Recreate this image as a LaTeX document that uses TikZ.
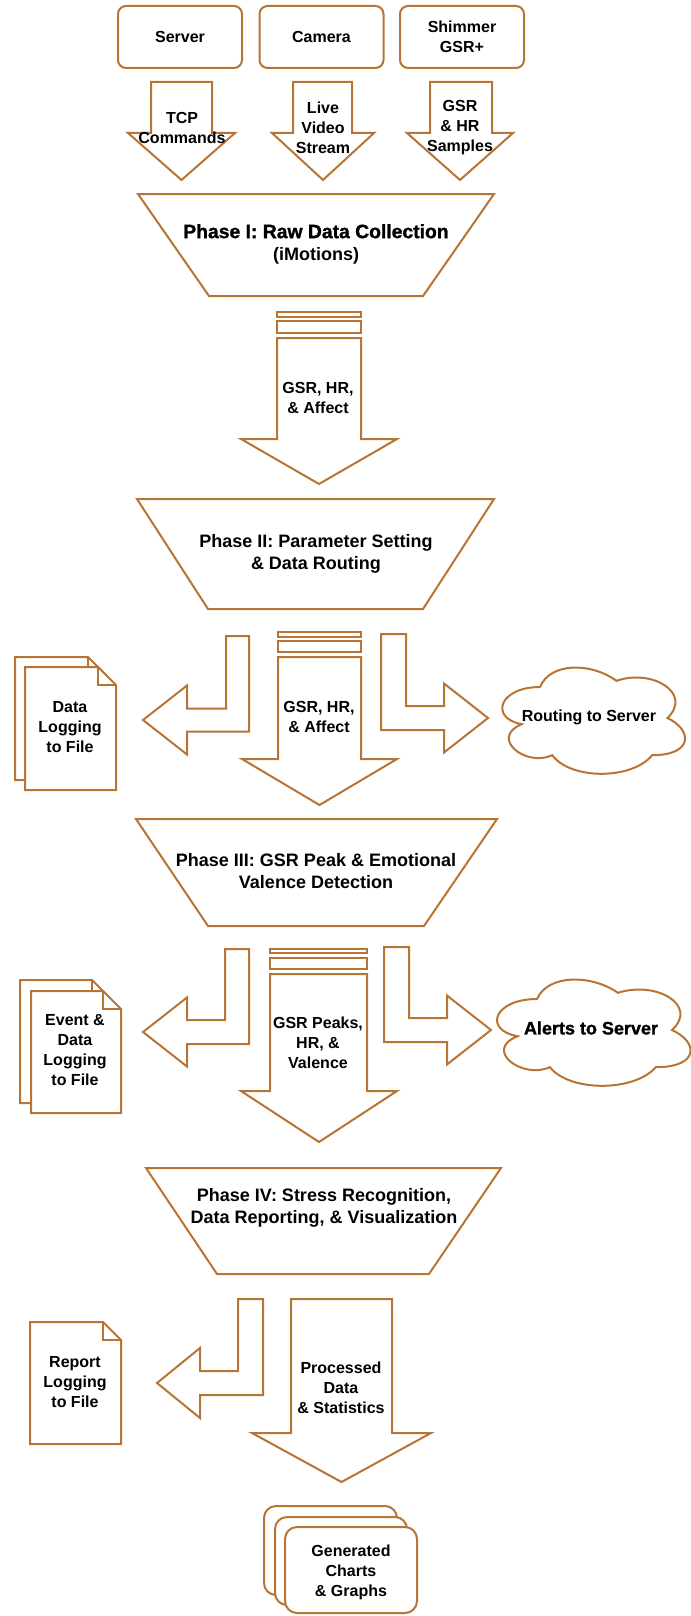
\documentclass[tikz,border=0pt]{standalone}
\usepackage{fontspec}
\setmainfont{Liberation Sans}
\newfontfamily\heavyfont{Liberation Sans}[FakeBold=1.3]
\definecolor{copper}{RGB}{184,116,52}
\tikzset{
  shapeline/.style={draw=copper, line width=1.5pt, fill=white, line join=miter},
  srcbox/.style={shapeline, rounded corners=6pt, minimum width=93pt, minimum height=46.5pt,
                 align=center, inner sep=0pt, font=\fontsize{12}{15}\selectfont\bfseries},
  lbl/.style={font=\fontsize{12}{15}\selectfont\bfseries, align=center, inner sep=0pt, text=black},
  phaselbl/.style={font=\fontsize{13.5}{16.5}\selectfont\bfseries, align=center, inner sep=0pt, text=black},
}
% downward block arrow: shaft left, shaft right, top, head y, wing left, wing right, tip y
\newcommand\downblock[7]{%
  \draw[shapeline] (#1,#3) -- (#2,#3) -- (#2,#4) -- (#6,#4) -- ({(#5+#6)/2},#7)
    -- (#5,#4) -- (#1,#4) -- cycle;}
% bent block arrow: outer shaft x, inner shaft x, top, arm centre y, arm half height,
% head base x, head half height, tip x
\newcommand\turnarrow[8]{%
  \draw[shapeline] (#1,#3) -- (#1,{#4+#5}) -- (#6,{#4+#5}) -- (#6,{#4+#7}) -- (#8,#4)
    -- (#6,{#4-#7}) -- (#6,{#4-#5}) -- (#2,{#4-#5}) -- (#2,#3) -- cycle;}
% page with folded corner: x1, y1, x2, y2, fold
\newcommand\docpage[5]{%
  \draw[shapeline] (#1,#2) -- ({#3-#5},#2) -- (#3,{#2+#5}) -- (#3,#4) -- (#1,#4) -- cycle;
  \draw[shapeline, fill=none] ({#3-#5},#2) -- ({#3-#5},{#2+#5}) -- (#3,{#2+#5});}
% cloud outline in a box: x0, y0, width, height
\newcommand\cloudshape[4]{%
  \begin{scope}[shift={(#1,#2)}, xscale=#3, yscale=#4]
    \draw[shapeline] (0.25,0.25) .. controls (0.05,0.25) and (0,0.5) .. (0.16,0.55)
      .. controls (0,0.66) and (0.18,0.9) .. (0.31,0.8)
      .. controls (0.4,1) and (0.7,1) .. (0.8,0.8)
      .. controls (1,0.8) and (1,0.6) .. (0.875,0.5)
      .. controls (1,0.3) and (0.8,0.1) .. (0.625,0.2)
      .. controls (0.5,0.05) and (0.3,0.05) .. (0.25,0.25) -- cycle;
  \end{scope}}
\begin{document}
\begin{tikzpicture}[x=0.75pt,y=-0.75pt]
\useasboundingbox (0,0) rectangle (691,1616);

% ---- sources ----
\node[srcbox] (server) at (180,37) {Server};
\node[srcbox] (camera) at (321.5,37) {Camera};
\node[srcbox] (shimmer) at (462,37) {Shimmer\\GSR+};

\downblock{151}{212}{82}{133}{128}{235}{180}
\downblock{293}{352}{82}{133}{272}{374}{180}
\downblock{430}{492}{82}{133}{407}{513}{180}
\node[lbl] (tcp) at (182,128) {TCP\\Commands};
\node[lbl] (video) at (323,128) {Live\\Video\\Stream};
\node[lbl] (samples) at (460,128) {GSR\\\& HR\\Samples};

% ---- Phase I ----
\draw[shapeline] (138,194) -- (494,194) -- (423,296) -- (209,296) -- cycle;
\node[phaselbl] (phase1) at (316,244)
  {{\heavyfont\bfseries\fontsize{14.5}{16.5}\selectfont Phase I: Raw Data Collection}\\(iMotions)};
\draw[shapeline] (277,312) rectangle (361,317);
\draw[shapeline] (277,321) rectangle (361,333);
\downblock{277}{361}{338}{439}{241}{397}{484}
\node[lbl] (flow1) at (318,398) {GSR, HR,\\\& Affect};

% ---- Phase II ----
\draw[shapeline] (137,499) -- (494,499) -- (423,609) -- (208,609) -- cycle;
\node[phaselbl] (phase2) at (316,554) {Phase II: Parameter Setting\\\& Data Routing};
\draw[shapeline] (278,632) rectangle (361,637);
\draw[shapeline] (278,641) rectangle (361,652);
\downblock{278}{361}{657}{759}{242}{397}{805}
\node[lbl] (flow2) at (319,717) {GSR, HR,\\\& Affect};
\turnarrow{249}{226}{636}{720}{11.5}{187}{34.5}{143}
\turnarrow{381}{406}{634}{718}{12}{444}{34.5}{488}
\docpage{15}{657}{106}{780}{18}
\docpage{25}{667}{116}{790}{18}
\node[lbl] (log2) at (70,727) {Data\\Logging\\to File};
\cloudshape{489}{656}{204}{124}
\node[lbl] (route) at (589,717) {Routing to Server};

% ---- Phase III ----
\draw[shapeline] (136,819) -- (497,819) -- (424,926) -- (208,926) -- cycle;
\node[phaselbl] (phase3) at (316,871) {Phase III: GSR Peak \& Emotional\\Valence Detection};
\draw[shapeline] (270,949) rectangle (367,953);
\draw[shapeline] (270,958) rectangle (367,969);
\downblock{270}{367}{974}{1091}{241}{397}{1142}
\node[lbl] (flow3) at (318,1043) {GSR Peaks,\\HR, \&\\Valence};
\turnarrow{249}{225}{949}{1032}{12}{187}{34.5}{143}
\turnarrow{384}{409}{947}{1030}{12}{447}{34.5}{491}
\docpage{20}{980}{110}{1103}{18}
\docpage{31}{991}{121}{1113}{18}
\node[lbl] (log3) at (75,1050) {Event \&\\Data\\Logging\\to File};
\cloudshape{483}{968}{216}{124}
\node[lbl, font=\heavyfont\bfseries\fontsize{13.5}{16.5}\selectfont] (alerts) at (591,1028) {Alerts to Server};

% ---- Phase IV ----
\draw[shapeline] (146,1168) -- (501,1168) -- (429,1274) -- (217,1274) -- cycle;
\node[phaselbl] (phase4) at (324,1208) {Phase IV: Stress Recognition,\\Data Reporting, \& Visualization};
\turnarrow{263}{238}{1299}{1383}{12}{200}{35}{157}
\docpage{30}{1322}{121}{1444}{18}
\node[lbl] (log4) at (75,1382) {Report\\Logging\\to File};
\downblock{291}{392}{1299}{1433}{252}{431}{1482}
\node[lbl] (flow4) at (341,1388) {Processed\\Data\\\& Statistics};

% ---- outputs ----
\draw[shapeline, rounded corners=9pt] (264,1506) rectangle (397,1595);
\draw[shapeline, rounded corners=9pt] (275,1517) rectangle (407,1605);
\draw[shapeline, rounded corners=9pt] (285,1527) rectangle (417,1613);
\node[lbl] (charts) at (351,1572) {Generated\\Charts\\\& Graphs};
\end{tikzpicture}
\end{document}
